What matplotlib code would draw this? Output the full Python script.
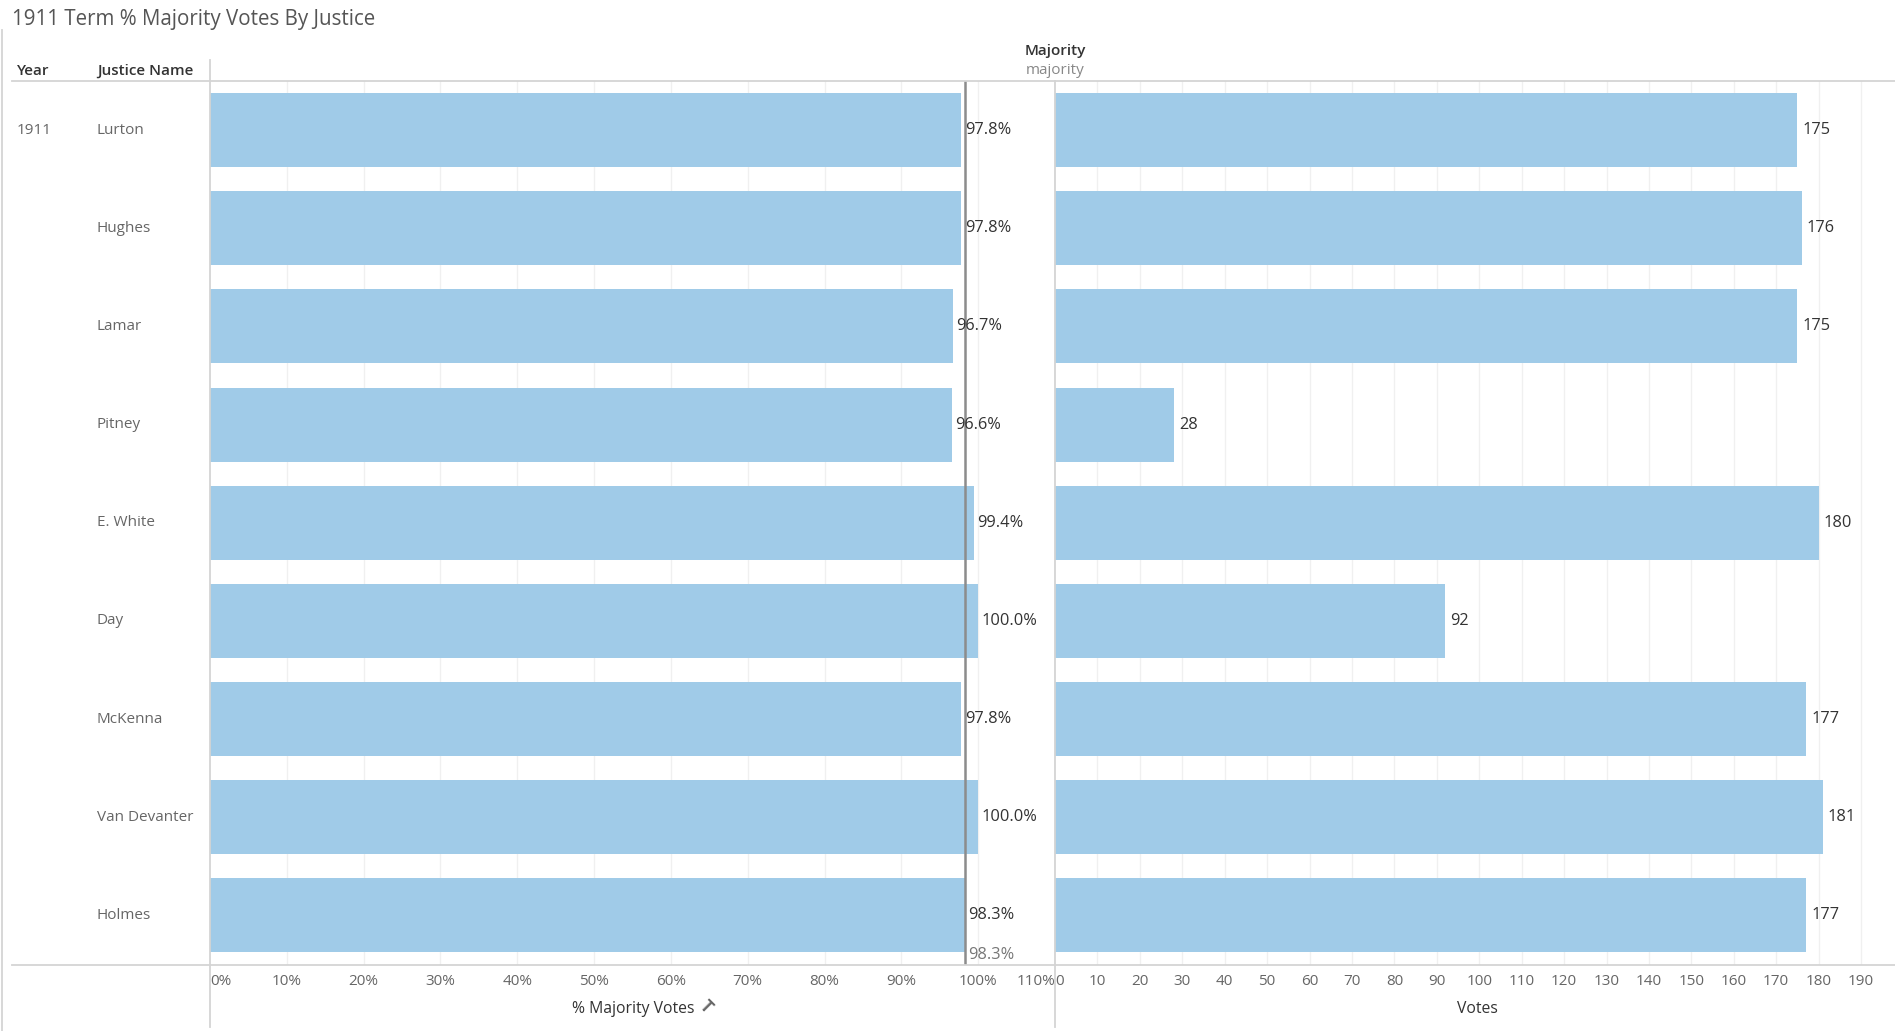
import matplotlib
matplotlib.use('Agg')
import matplotlib.pyplot as plt
from matplotlib.lines import Line2D

plt.rcParams['font.family'] = ['Open Sans', 'DejaVu Sans']

# data
justices = ['Lurton', 'Hughes', 'Lamar', 'Pitney', 'E. White', 'Day', 'McKenna', 'Van Devanter', 'Holmes']
pct_majority = [97.8, 97.8, 96.7, 96.6, 99.4, 100.0, 97.8, 100.0, 98.3]
votes = [175, 176, 175, 28, 180, 92, 177, 181, 177]
year = '1911'
ref_pct = 98.3
pct_ticks = [0, 10, 20, 30, 40, 50, 60, 70, 80, 90, 100, 110]
vote_ticks = [0, 10, 20, 30, 40, 50, 60, 70, 80, 90, 100, 110, 120, 130, 140, 150, 160, 170, 180, 190]

W, H = 1895, 1031
bar_color = '#a0cbe8'
grid_color = '#f0f0f0'
line_color = '#d4d4d4'
label_color = '#333333'
tick_color = '#666666'

fig = plt.figure(figsize=(W / 100, H / 100), dpi=100)


def fx(px):
    return px / W


def fy(py):
    return 1 - py / H


top, bottom = 81, 964.5
ax1 = fig.add_axes([fx(210), fy(bottom), fx(1055 - 210), fy(top) - fy(bottom)])
ax2 = fig.add_axes([fx(1055), fy(bottom), fx(W - 1055), fy(top) - fy(bottom)])

rows = list(range(len(justices)))

for ax in (ax1, ax2):
    for s in ax.spines.values():
        s.set_visible(False)
    ax.set_ylim(len(justices) - 0.5, -0.5)
    ax.set_yticks([])
    ax.tick_params(axis='x', length=0, labelsize=11, colors=tick_color, pad=7)
    ax.set_axisbelow(True)

# left pane: % majority
ax1.set_xlim(0, 110)
for t in pct_ticks[1:]:
    ax1.axvline(t, color=grid_color, lw=1, zorder=0)
ax1.barh(rows, pct_majority, height=0.755, color=bar_color, zorder=2)
for r, v in zip(rows, pct_majority):
    ax1.text(v + 0.45, r, f'{v:.1f}%', va='center', ha='left', fontsize=11.8, color=label_color, zorder=4)
ax1.axvline(ref_pct, color='#8c8c8c', lw=1.8, zorder=3)
ax1.text(ref_pct + 0.4, len(justices) - 0.52, f'{ref_pct:.1f}%', va='bottom', ha='left',
         fontsize=11.8, color='#777777', zorder=4)
ax1.set_xticks(pct_ticks)
ax1.set_xticklabels([f'{t}%' for t in pct_ticks])
lbls = ax1.get_xticklabels()
lbls[0].set_ha('left')
lbls[-1].set_ha('right')

# right pane: votes
ax2.set_xlim(0, 198)
for t in vote_ticks[1:] + [200]:
    ax2.axvline(t, color=grid_color, lw=1, zorder=0)
ax2.barh(rows, votes, height=0.755, color=bar_color, zorder=2)
for r, v in zip(rows, votes):
    ax2.text(v + 1.2, r, str(v), va='center', ha='left', fontsize=11.8, color=label_color, zorder=4)
ax2.set_xticks(vote_ticks)
ax2.set_xticklabels([str(t) for t in vote_ticks])
ax2.get_xticklabels()[0].set_ha('left')

# row headers
fig.text(fx(17), fy(130), year, fontsize=11, color=tick_color, va='center', ha='left')
for r, name in zip(rows, justices):
    ax1.annotate(name, xy=(0, r), xycoords=('axes fraction', 'data'), xytext=(fx(97), 0),
                 textcoords=('figure fraction', 'offset points'),
                 va='center', ha='left', fontsize=11, color=tick_color)

# column headers and title
fig.text(fx(12), fy(20), '1911 Term % Majority Votes By Justice', fontsize=14.8, color='#555555',
         va='center', ha='left')
fig.text(fx(17), fy(71), 'Year', fontsize=11, color=label_color, fontweight='semibold', va='center')
fig.text(fx(97), fy(71), 'Justice Name', fontsize=11, color=label_color, fontweight='semibold', va='center')
fig.text(fx(1055), fy(51), 'Majority', fontsize=11, color=label_color, fontweight='semibold',
         va='center', ha='center')
fig.text(fx(1055), fy(71), 'majority', fontsize=11, color='#888888', va='center', ha='center')

# axis titles
fig.text(fx(633), fy(1009), '% Majority Votes', fontsize=11.3, color=label_color, va='center', ha='center')
fig.text(fx(706), fy(1007), 'T', fontsize=12, color='#666666', fontweight='bold', rotation=-45,
         va='center', ha='center')
fig.text(fx(1477), fy(1009), 'Votes', fontsize=11.3, color=label_color, va='center', ha='center')

# pane rules
lines = [
    ((12, W), (top, top)),
    ((12, W), (bottom, bottom)),
    ((210, 210), (60, 1027)),
    ((1055, 1055), (81, 1027)),
    ((1.5, 1.5), (30, H)),
]
for xs, ys in lines:
    fig.add_artist(Line2D([fx(x) for x in xs], [fy(y) for y in ys], color=line_color, lw=1.3))

fig.savefig('out.png', dpi=100, facecolor='white')
